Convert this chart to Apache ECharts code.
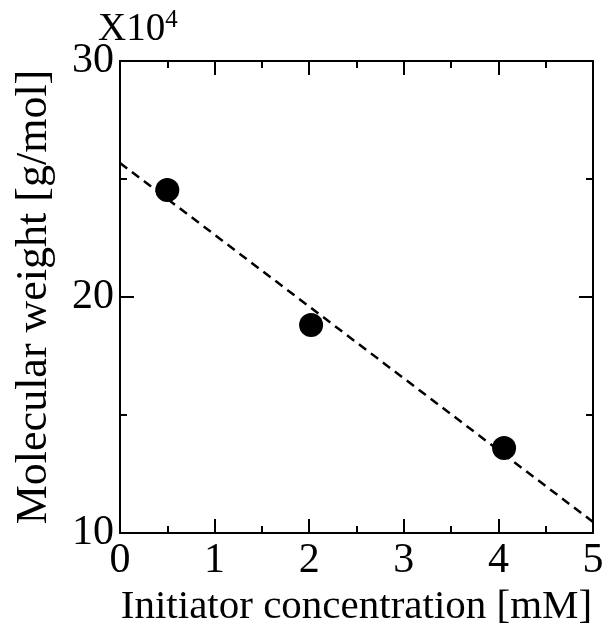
<!DOCTYPE html>
<html><head><meta charset="utf-8">
<script src="https://cdn.jsdelivr.net/npm/echarts@6/dist/echarts.min.js"></script>
<style>html,body{margin:0;padding:0;background:#fff}#c{width:608px;height:634px}</style>
</head><body><div id="c"></div>
<script>
var xData = [0.5, 2.02, 4.06];
var yData = [24.53, 18.81, 13.6];
var fitX = [0, 5];
var fitY = [25.68, 10.47];
var xTicks = [0, 1, 2, 3, 4, 5];
var yTicks = [10, 20, 30];

var font = 'Liberation Serif, Times New Roman, serif';
var chart = echarts.init(document.getElementById('c'), null, {renderer: 'canvas'});
function mk(extra) { return Object.assign({
  axisLine: {show: true, onZero: false, lineStyle: {color: '#000', width: 2}},
  axisTick: {show: true, inside: true, length: 14, lineStyle: {color: '#000', width: 2}},
  minorTick: {show: true, splitNumber: 2, length: 7, lineStyle: {color: '#000', width: 2}},
  splitLine: {show: false}
}, extra); }
chart.setOption({
  animation: false,
  backgroundColor: '#fff',
  grid: {left: 120, top: 61, right: 15, bottom: 101, containLabel: false},
  title: {
    text: '{a|X10}{b|4}', left: 93, top: 3,
    textStyle: {fontWeight: 'normal', rich: {
      a: {fontFamily: font, fontSize: 39, fontWeight: 'normal', color: '#000', verticalAlign: 'bottom'},
      b: {fontFamily: font, fontSize: 25, fontWeight: 'normal', color: '#000', verticalAlign: 'top', padding: [0,0,16,0]}}}
  },
  xAxis: [
    mk({type: 'value', min: xTicks[0], max: xTicks[xTicks.length-1], interval: 1, position: 'bottom',
      axisLabel: {show: true, fontFamily: font, fontSize: 42, color: '#000', margin: 7},
      name: 'Initiator concentration [mM]', nameLocation: 'middle', nameGap: 52,
      nameTextStyle: {fontFamily: font, fontSize: 41, color: '#000'}}),
    mk({type: 'value', min: 0, max: 5, interval: 1, position: 'top', axisLabel: {show: false}})
  ],
  yAxis: [
    mk({type: 'value', min: yTicks[0], max: yTicks[yTicks.length-1], interval: 10, position: 'left',
      axisLabel: {show: true, fontFamily: font, fontSize: 42, color: '#000', margin: 6},
      name: 'Molecular weight [g/mol]', nameLocation: 'middle', nameGap: 64,
      nameTextStyle: {fontFamily: font, fontSize: 44, color: '#000'}}),
    mk({type: 'value', min: 10, max: 30, interval: 10, position: 'right', axisLabel: {show: false}})
  ],
  series: [
    {type: 'line', data: fitX.map(function(x,i){return [x, fitY[i]];}), showSymbol: false, symbol: 'none',
      lineStyle: {color: '#000', width: 2.5, type: [9, 6]}, z: 2},
    {type: 'scatter', data: xData.map(function(x,i){return [x, yData[i]];}), symbol: 'circle', symbolSize: 24,
      itemStyle: {color: '#000', opacity: 1}, z: 3}
  ]
});
</script></body></html>
